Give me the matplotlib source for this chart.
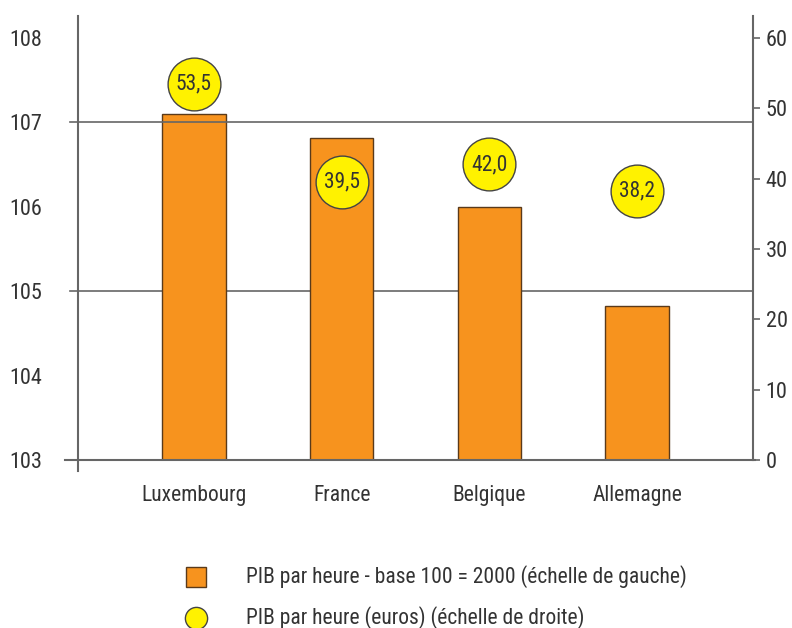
import matplotlib
matplotlib.use("Agg")
import matplotlib.pyplot as plt
from matplotlib import font_manager
from matplotlib.lines import Line2D

# data
pays = ["Luxembourg", "France", "Belgique", "Allemagne"]
indice_2000 = [107.1, 106.82, 106.0, 104.83]   # echelle de gauche
pib_euros = [53.5, 39.5, 42.0, 38.2]           # echelle de droite
labels_euros = ["53,5", "39,5", "42,0", "38,2"]
left_ticks = [103, 104, 105, 106, 107, 108]
right_ticks = [0, 10, 20, 30, 40, 50, 60]

# narrow font if one is installed
names = {f.name for f in font_manager.fontManager.ttflist}
for fam in ["Liberation Sans Narrow", "Roboto Condensed", "Open Sans Condensed", "Roboto"]:
    if fam in names:
        plt.rcParams["font.family"] = [fam, "DejaVu Sans"]
        break

ORANGE = "#F7931E"
YELLOW = "#FFF200"
GREY = "#666666"
TXT = "#333333"

fig = plt.figure(figsize=(7.92, 6.28), dpi=100)
ax = fig.add_axes([0.0985, 0.2675, 0.8523, 0.707])
ax2 = ax.twinx()

x = range(len(pays))
ax.bar(x, [v - 103 for v in indice_2000], bottom=103, width=0.43,
       color=ORANGE, edgecolor="#5a3a1a", linewidth=1, zorder=2)

ax.set_xlim(-0.784, 3.784)
ax.set_ylim(103, 108.26)
ax2.set_ylim(0, 63.1)

# horizontal lines: 105 behind bars, 107 drawn over them
tr = ax.get_yaxis_transform()
ax.plot([-0.012, 1], [105, 105], transform=tr, color=GREY, lw=1.2, zorder=1, clip_on=False)
ax.plot([-0.012, 1], [107, 107], transform=tr, color=GREY, lw=1.2, zorder=3, clip_on=False)
ax.plot([-0.02, 1.003], [103, 103], transform=tr, color=GREY, lw=1.5, zorder=3, clip_on=False)
# left spine runs a bit below the bottom line
ax.plot([0, 0], [-0.025, 1], transform=ax.transAxes, color=GREY, lw=1.5, clip_on=False, zorder=3)

ax2.plot(list(x), pib_euros, "o", ms=38, mfc=YELLOW, mec="#444444", mew=1, zorder=5, ls="none")
for xi, v, lab in zip(x, pib_euros, labels_euros):
    ax2.text(xi, v, lab, ha="center", va="center", fontsize=15.5, color=TXT, zorder=6)
ax2.set_zorder(ax.get_zorder() + 1)
ax2.patch.set_visible(False)

for a in (ax, ax2):
    for s in ("top", "bottom", "left", "right"):
        a.spines[s].set_visible(False)
ax2.spines["right"].set_visible(True)
ax2.spines["right"].set_color(GREY)
ax2.spines["right"].set_linewidth(1.5)

ax.set_yticks(left_ticks)
ax.set_yticklabels([str(t) for t in left_ticks])
ax.tick_params(axis="y", length=0, pad=26, labelsize=16, labelcolor=TXT)
ax.set_xticks(list(x))
ax.set_xticklabels(pays)
ax.tick_params(axis="x", length=0, pad=18, labelsize=15.5, labelcolor=TXT)

ax2.set_yticks(right_ticks)
ax2.tick_params(axis="y", length=5, width=1.2, color=GREY, pad=4, labelsize=16, labelcolor=TXT)

# legend, drawn by hand under the chart
fig.add_artist(Line2D([196 / 792], [1 - 577 / 628], marker="s", ms=15, mfc=ORANGE,
                      mec="#5a3a1a", mew=1, ls="none", transform=fig.transFigure))
fig.add_artist(Line2D([196 / 792], [1 - 618 / 628], marker="o", ms=16, mfc=YELLOW,
                      mec="#444444", mew=1, ls="none", transform=fig.transFigure))
fig.text(246 / 792, 1 - 577 / 628, "PIB par heure - base 100 = 2000 (échelle de gauche)",
         fontsize=15.5, color=TXT, va="center")
fig.text(246 / 792, 1 - 618 / 628, "PIB par heure (euros) (échelle de droite)",
         fontsize=15.5, color=TXT, va="center")

fig.savefig("out.png", dpi=100)
